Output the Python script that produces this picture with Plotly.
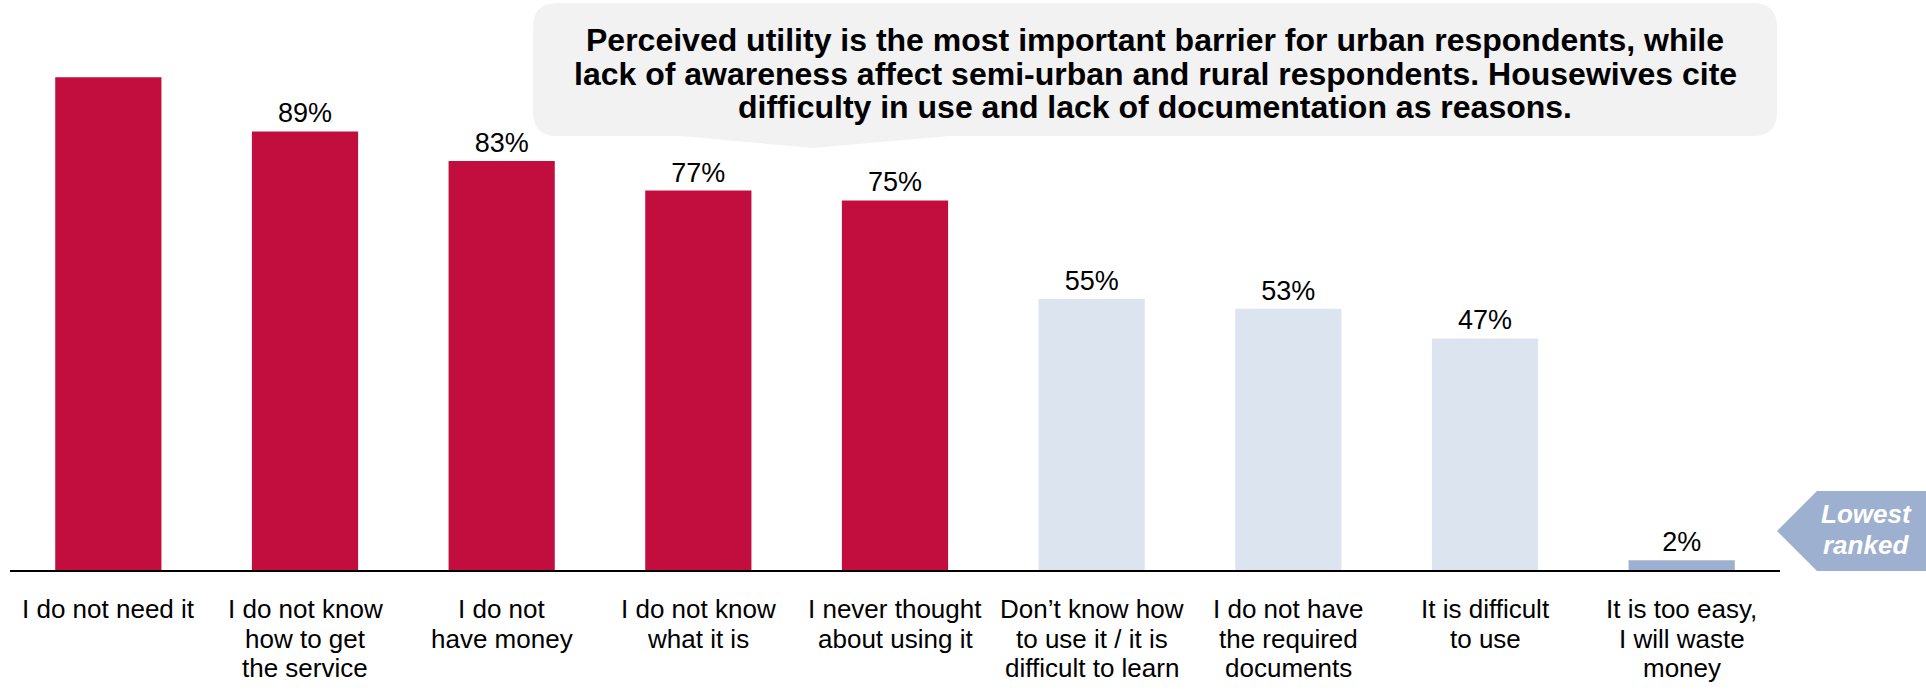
import plotly.graph_objects as go

# Reasons for not using the service (share of respondents, %)
categories = [
    "I do not need it",
    "I do not know<br>how to get<br>the service",
    "I do not<br>have money",
    "I do not know<br>what it is",
    "I never thought<br>about using it",
    "Don’t know how<br>to use it / it is<br>difficult to learn",
    "I do not have<br>the required<br>documents",
    "It is difficult<br>to use",
    "It is too easy,<br>I will waste<br>money",
]
values = [100, 89, 83, 77, 75, 55, 53, 47, 2]
value_labels = ["", "89%", "83%", "77%", "75%", "55%", "53%", "47%", "2%"]

callout_lines = [
    "Perceived utility is the most important barrier for urban respondents, while",
    "lack of awareness affect semi-urban and rural respondents. Housewives cite",
    "difficulty in use and lack of documentation as reasons.",
]
flag_lines = ["Lowest", "ranked"]

RED = "#C20E3E"
PALE = "#DCE4EF"
STEEL = "#9DB0CF"
bar_colors = [RED] * 5 + [PALE] * 3 + [STEEL]

W, H = 1926, 690
M = dict(l=10, r=146, t=28, b=120)
PW = W - M["l"] - M["r"]
PH = H - M["t"] - M["b"]
FONT = "Liberation Sans, Arial, sans-serif"


def px(x):
    return (x - M["l"]) / PW


def py(y):
    return (H - M["b"] - y) / PH


def path(points):
    return "M " + " L ".join(f"{px(x):.5f},{py(y):.5f}" for x, y in points) + " Z"


def rounded_callout(x0, y0, x1, y1, r, tail):
    # rounded rectangle with a shallow pointer on the bottom edge
    def p(x, y):
        return f"{px(x):.5f},{py(y):.5f}"

    tl, tt, tr = tail
    d = f"M {p(x0 + r, y0)} L {p(x1 - r, y0)} "
    d += f"Q {p(x1, y0)} {p(x1, y0 + r)} L {p(x1, y1 - r)} "
    d += f"Q {p(x1, y1)} {p(x1 - r, y1)} "
    d += f"L {p(tr, y1)} L {p(tt[0], tt[1])} L {p(tl, y1)} "
    d += f"L {p(x0 + r, y1)} Q {p(x0, y1)} {p(x0, y1 - r)} "
    d += f"L {p(x0, y0 + r)} Q {p(x0, y0)} {p(x0 + r, y0)} Z"
    return d


fig = go.Figure(
    go.Bar(
        x=categories,
        y=values,
        marker=dict(color=bar_colors, line=dict(width=0)),
        text=value_labels,
        textposition="outside",
        cliponaxis=False,
        textfont=dict(family=FONT, size=27, color="#000000"),
        hoverinfo="skip",
    )
)

fig.update_layout(
    width=W,
    height=H,
    margin=M,
    paper_bgcolor="white",
    plot_bgcolor="white",
    showlegend=False,
    bargap=0.46,
    font=dict(family=FONT, color="#000000"),
    uniformtext=dict(mode=False),
)
fig.update_xaxes(
    range=[-0.5, 8.5],
    showline=True,
    linecolor="#000000",
    linewidth=2,
    showgrid=False,
    ticks="",
    showticklabels=False,
)
fig.update_yaxes(range=[0, 110], visible=False, showgrid=False, zeroline=False)

# category labels under the axis, one annotation per line for tight spacing
for cat in categories:
    for i, line in enumerate(cat.split("<br>")):
        fig.add_annotation(
            x=cat,
            y=0,
            xref="x",
            yref="y",
            text=line,
            showarrow=False,
            xanchor="center",
            yanchor="middle",
            yshift=-(39 + i * 29.5),
            font=dict(family=FONT, size=26, color="#000000"),
        )

# callout box with pointer
fig.add_shape(
    type="path",
    xref="paper",
    yref="paper",
    path=rounded_callout(533, 3, 1777, 136, 24, (680, (813, 148), 950)),
    fillcolor="#F2F2F2",
    line=dict(width=0),
    layer="above",
)
for i, line in enumerate(callout_lines):
    fig.add_annotation(
        xref="paper",
        yref="paper",
        x=px(1155),
        y=py(40 + i * 33.5),
        xanchor="center",
        yanchor="middle",
        text=line,
        showarrow=False,
        font=dict(family=FONT, size=32, color="#000000", weight="bold"),
    )

# "Lowest ranked" flag
fig.add_shape(
    type="path",
    xref="paper",
    yref="paper",
    path=path([(1777, 531), (1817, 491), (1926, 491), (1926, 571), (1817, 571)]),
    fillcolor=STEEL,
    line=dict(width=0),
    layer="above",
)
for i, line in enumerate(flag_lines):
    fig.add_annotation(
        xref="paper",
        yref="paper",
        x=px(1866),
        y=py(514 + i * 31),
        xanchor="center",
        yanchor="middle",
        text=f"<i>{line}</i>",
        showarrow=False,
        font=dict(family=FONT, size=26, color="#FFFFFF", weight="bold"),
    )

fig.write_html("out.html")
